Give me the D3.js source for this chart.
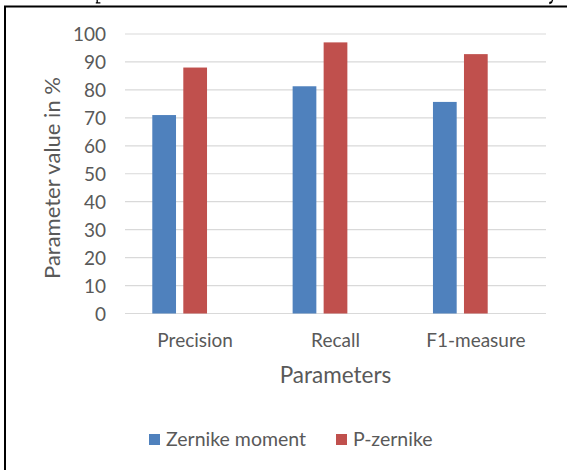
<!DOCTYPE html>
<html>
<head>
<meta charset="utf-8">
<script src="https://cdn.jsdelivr.net/npm/d3@7"></script>
<style>
  html, body { margin: 0; padding: 0; background: #fff; }
  svg { display: block; }
</style>
</head>
<body>
<svg id="chart" width="567" height="470"></svg>
<script>
const categories = ["Precision", "Recall", "F1-measure"];
const seriesNames = ["Zernike moment", "P-zernike"];
const zernikeMoment = [71, 81.3, 75.7];
const pZernike = [88, 97, 92.8];
const yTicks = [0, 10, 20, 30, 40, 50, 60, 70, 80, 90, 100];
const colors = ["#4F81BD", "#C0504D"];

const seriesValues = [zernikeMoment, pZernike];
const svg = d3.select("#chart");
const font = "Lato, 'Open Sans', sans-serif";
const textColor = "#595959";

// glyph remnants of page text cropped above the frame (drawn as marks)
svg.append("path").attr("d", "M97.2,0 V2.6 M95.8,2.9 H100.4")
  .attr("fill", "none").attr("stroke", "#000").attr("stroke-width", 1.3);
svg.append("path").attr("d", "M552.5,0 C552.2,2 551.5,3 550,3.4 C549.6,2.4 550.3,2 551,2.1")
  .attr("fill", "none").attr("stroke", "#000").attr("stroke-width", 1.4);

// page border (chart frame)
svg.append("path")
  .attr("d", "M5,470 V6.5 H567")
  .attr("fill", "none").attr("stroke", "#000").attr("stroke-width", 2);

const plot = { left: 125, right: 546, top: 34, bottom: 313.5 };

const y = d3.scaleLinear().domain([0, 100]).range([plot.bottom, plot.top]);
const x0 = d3.scaleBand().domain(categories).range([plot.left, plot.right])
  .paddingInner(0.389).paddingOuter(0.1945);
// Excel-style slots: third slot is an empty series position
const x1 = d3.scaleBand().domain([0, 1, 2]).range([0, x0.bandwidth()])
  .paddingInner(0.235).paddingOuter(0);

// gridlines
svg.append("g").selectAll("line").data(yTicks).join("line")
  .attr("x1", plot.left).attr("x2", plot.right)
  .attr("y1", d => y(d)).attr("y2", d => y(d))
  .attr("stroke", "#D9D9D9").attr("stroke-width", 1.2);

// y axis labels
const yAxis = d3.axisLeft(y).tickValues(yTicks).tickSize(0).tickPadding(0);
const gy = svg.append("g").attr("transform", `translate(106,0)`).call(yAxis);
gy.select(".domain").remove();
gy.selectAll("text").attr("font-family", font).attr("font-size", 19)
  .attr("fill", textColor).attr("dy", "0.35em");

// bars
const groups = svg.append("g").selectAll("g").data(categories).join("g")
  .attr("transform", d => `translate(${x0(d)},0)`);
groups.selectAll("rect")
  .data((c, i) => seriesValues.map((vals, s) => ({ s, v: vals[i] })))
  .join("rect")
  .attr("x", d => x1(d.s))
  .attr("width", x1.bandwidth())
  .attr("y", d => y(d.v))
  .attr("height", d => y(0) - y(d.v))
  .attr("fill", d => colors[d.s]);

// x axis labels
const xCenter = d3.scaleBand().domain(categories).range([plot.left, plot.right]);
const xAxis = d3.axisBottom(xCenter).tickSize(0).tickPadding(0);
const gx = svg.append("g").attr("transform", `translate(0,347)`).call(xAxis);
gx.select(".domain").remove();
gx.selectAll("text").attr("font-family", font).attr("font-size", 19)
  .attr("fill", textColor).attr("dy", 0);

// axis titles
svg.append("text").attr("x", (plot.left + plot.right) / 2).attr("y", 383)
  .attr("text-anchor", "middle").attr("font-family", font).attr("font-size", 22.5)
  .attr("fill", textColor).text("Parameters");
svg.append("text")
  .attr("transform", `translate(60,178) rotate(-90)`)
  .attr("text-anchor", "middle").attr("font-family", font).attr("font-size", 22)
  .attr("fill", textColor).text("Parameter value in %");

// legend
const legendX = [149, 336];
const lg = svg.append("g").selectAll("g").data(seriesNames).join("g")
  .attr("transform", (d, i) => `translate(${legendX[i]},434)`);
lg.append("rect").attr("width", 11).attr("height", 11).attr("fill", (d, i) => colors[i]);
lg.append("text").attr("x", 17).attr("y", 12).attr("font-family", font)
  .attr("font-size", 19.5).attr("fill", textColor).text(d => d);
</script>
</body>
</html>
